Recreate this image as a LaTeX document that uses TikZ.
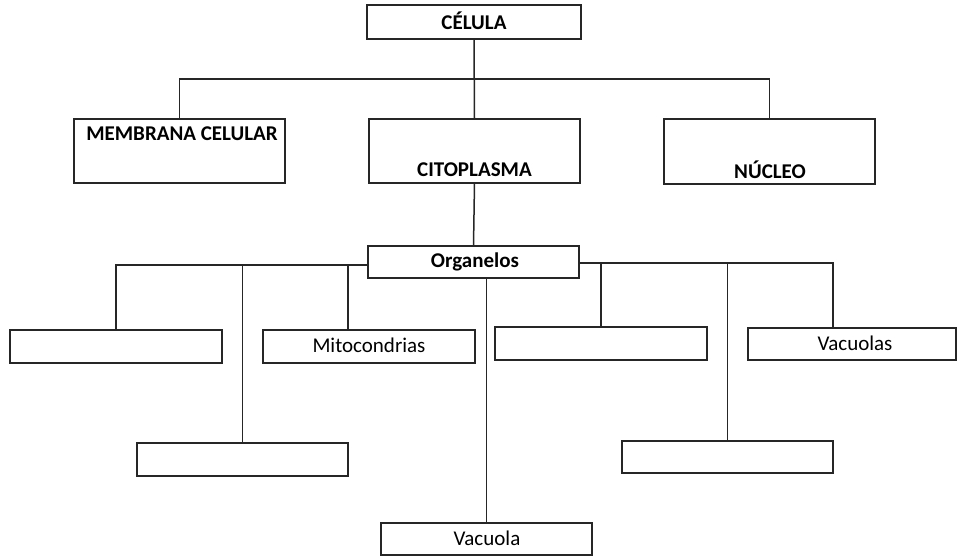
\documentclass[tikz,border=0pt]{standalone}
\usepackage{fontspec}
\setmainfont{Carlito}
\begin{document}
\begin{tikzpicture}[x=1pt,y=-1pt,
  box/.style={draw=black!85,line width=1.5pt,rectangle,inner sep=0pt,outer sep=0pt},
  lbl/.style={inner sep=0pt,font=\fontsize{21}{25}\selectfont},
  blbl/.style={inner sep=0pt,font=\fontsize{21}{25}\selectfont\bfseries},
  conn/.style={draw=black!85,line width=1.5pt}]
\useasboundingbox (0,0) rectangle (958,558);
% boxes
\node[box,minimum width=214pt,minimum height=34pt] (celula) at (474,22) {};
\node[box,minimum width=211pt,minimum height=64pt] (memb) at (179.5,151) {};
\node[box,minimum width=211pt,minimum height=64pt] (cito) at (474.5,151) {};
\node[box,minimum width=211pt,minimum height=65pt] (nuc) at (769.5,151.5) {};
\node[box,minimum width=211pt,minimum height=32pt] (org) at (473.5,262) {};
\node[box,minimum width=212pt,minimum height=33pt] (b1) at (116,346.5) {};
\node[box,minimum width=212pt,minimum height=33pt] (mito) at (369,346.5) {};
\node[box,minimum width=211pt,minimum height=33pt] (b2) at (242.5,459.5) {};
\node[box,minimum width=211pt,minimum height=32pt] (vacuola) at (486.5,539) {};
\node[box,minimum width=212pt,minimum height=33pt] (b3) at (601,343.5) {};
\node[box,minimum width=208pt,minimum height=32pt] (vacuolas) at (852,344) {};
\node[box,minimum width=211pt,minimum height=32pt] (b4) at (727.5,457) {};
% texts
\node[blbl] (tcel) at (474,21) {CÉLULA};
\node[blbl] (tmemb) at (182,134) {MEMBRANA CELULAR};
\node[blbl] (tcito) at (474.5,170) {CITOPLASMA};
\node[blbl] (tnuc) at (770,170) {NÚCLEO};
\node[blbl] (torg) at (475,262) {Organelos};
\node[lbl] (tmito) at (369,345) {Mitocondrias};
\node[lbl] (tvacs) at (855,343) {Vacuolas};
\node[lbl] (tvac) at (487,538) {Vacuola};
% bus coordinates
\coordinate (bus1) at (474,79);
\coordinate (busL) at (0,265);
\coordinate (busR) at (0,263);
\coordinate (mitoIn) at (348,330);
\coordinate (vacsIn) at (833,328);
% connectors
\draw[conn] (celula.south) -- (cito.north);
\draw[conn] (memb.north) -- (memb.north |- bus1) -- (nuc.north |- bus1) -- (nuc.north);
\draw[conn] (cito.south) -- (org.north);
\draw[conn] (org.west |- busL) -- (b1.north |- busL) -- (b1.north);
\draw[conn] (b2.north |- busL) -- (b2.north);
\draw[conn] (mitoIn |- busL) -- (mitoIn);
\draw[conn] (org.east |- busR) -- (vacsIn |- busR) -- (vacsIn);
\draw[conn] (b3.north |- busR) -- (b3.north);
\draw[conn] (b4.north |- busR) -- (b4.north);
\draw[conn] (vacuola.north |- org.south) -- (vacuola.north);
\end{tikzpicture}
\end{document}
